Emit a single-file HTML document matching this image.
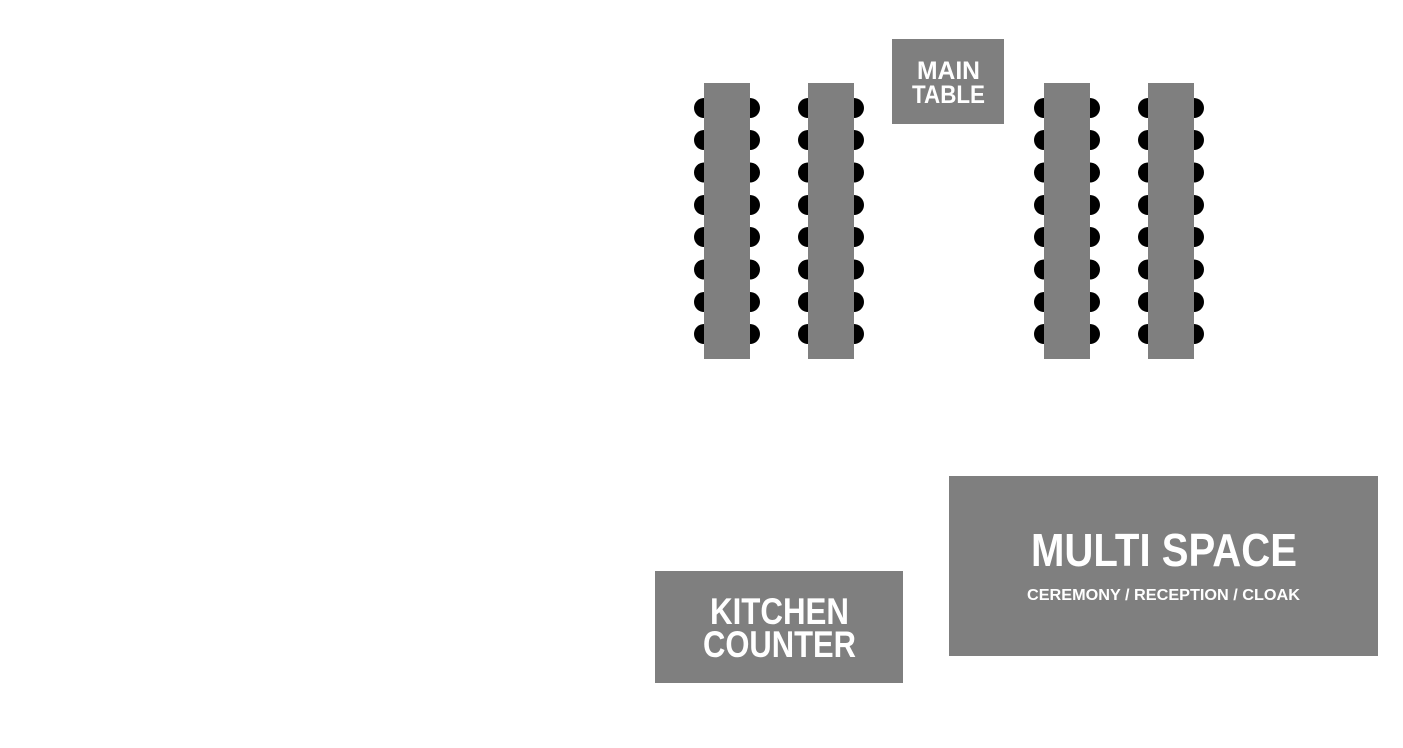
<!DOCTYPE html>
<html><head><meta charset="utf-8"><style>html,body{margin:0;padding:0;background:#fff}svg{display:block}</style></head>
<body>
<svg width="1403" height="748" viewBox="0 0 1403 748" xmlns="http://www.w3.org/2000/svg" font-family="'Liberation Sans', sans-serif" font-weight="bold" fill="#fff">
<g fill="#000">
<g id="c">
<circle cx="704" cy="108" r="10"/><circle cx="750" cy="108" r="10"/>
<circle cx="704" cy="140" r="10"/><circle cx="750" cy="140" r="10"/>
<circle cx="704" cy="172.5" r="10"/><circle cx="750" cy="172.5" r="10"/>
<circle cx="704" cy="205" r="10"/><circle cx="750" cy="205" r="10"/>
<circle cx="704" cy="237" r="10"/><circle cx="750" cy="237" r="10"/>
<circle cx="704" cy="269.5" r="10"/><circle cx="750" cy="269.5" r="10"/>
<circle cx="704" cy="302" r="10"/><circle cx="750" cy="302" r="10"/>
<circle cx="704" cy="334" r="10"/><circle cx="750" cy="334" r="10"/>
</g>
<use href="#c" x="104"/>
<use href="#c" x="340"/>
<use href="#c" x="444"/>
</g>
<g fill="#7f7f7f">
<rect x="704" y="83" width="46" height="276"/>
<rect x="808" y="83" width="46" height="276"/>
<rect x="1044" y="83" width="46" height="276"/>
<rect x="1148" y="83" width="46" height="276"/>
<rect x="892" y="39" width="112" height="85"/>
<rect x="655" y="571" width="248" height="112"/>
<rect x="949" y="476" width="429" height="180"/>
</g>
<text x="917" y="79" font-size="25" textLength="63" lengthAdjust="spacingAndGlyphs">MAIN</text>
<text x="912" y="103" font-size="25" textLength="73" lengthAdjust="spacingAndGlyphs">TABLE</text>
<text x="710" y="624" font-size="37" textLength="139" lengthAdjust="spacingAndGlyphs">KITCHEN</text>
<text x="703" y="657" font-size="37" textLength="153" lengthAdjust="spacingAndGlyphs">COUNTER</text>
<text x="1031" y="566" font-size="46" textLength="266" lengthAdjust="spacingAndGlyphs">MULTI SPACE</text>
<text x="1027" y="600" font-size="16" textLength="273" lengthAdjust="spacingAndGlyphs">CEREMONY / RECEPTION / CLOAK</text>
</svg>
</body></html>
